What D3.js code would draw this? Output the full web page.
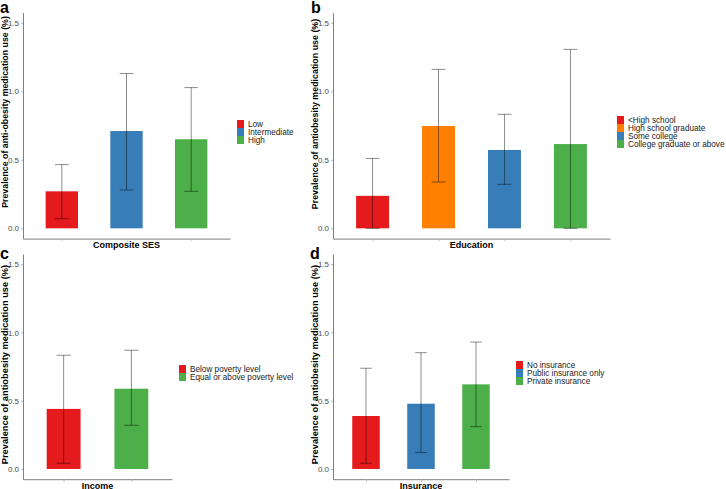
<!DOCTYPE html>
<html lang="en">
<head>
  <meta charset="UTF-8">
  <title>Antiobesity medication use by SES</title>
  <style>
    body {
      margin: 0;
      background: #fff;
    }
    svg text {
      font-family: "Liberation Sans", Arial, sans-serif;
    }
  </style>
</head>
<body>
  <svg></svg>
</body>
<script src="https://cdn.jsdelivr.net/npm/d3@7"></script>
<script>
  var width = 726
  var height = 489

  // data (percent)
  var sesCats = ['Low', 'Intermediate', 'High']
  var sesVals = [0.27, 0.71, 0.65]
  var sesLow = [0.07, 0.28, 0.27]
  var sesHigh = [0.465, 1.13, 1.027]

  var eduCats = ['<High school', 'High school graduate', 'Some college', 'College graduate or above']
  var eduVals = [0.237, 0.747, 0.572, 0.615]
  var eduLow = [0, 0.338, 0.321, 0]
  var eduHigh = [0.51, 1.16, 0.832, 1.306]

  var incCats = ['Below poverty level', 'Equal or above poverty level']
  var incVals = [0.44, 0.588]
  var incLow = [0.042, 0.32]
  var incHigh = [0.833, 0.87]

  var insCats = ['No insurance', 'Public insurance only', 'Private insurance']
  var insVals = [0.388, 0.478, 0.62]
  var insLow = [0.042, 0.12, 0.31]
  var insHigh = [0.738, 0.852, 0.93]

  var yTicks = [0, 0.5, 1.0, 1.5]

  var red = '#E41A1C', blue = '#377EB8', green = '#4DAF4A', orange = '#FF7F00'

  var panels = [
    {tag: 'a', cats: sesCats, vals: sesVals, lo: sesLow, hi: sesHigh, colors: [red, blue, green],
     xTitle: 'Composite SES', yTitle: 'Prevalence of anti-obesity medication use (%)',
     x0: 23, x1: 230, yTop: 12.5, yBot: 238.6, yTitleMid: 112, ySize: 8.8,
     legX: 237, legY: 120, tagX: 0, tagY: 13},
    {tag: 'b', cats: eduCats, vals: eduVals, lo: eduLow, hi: eduHigh, colors: [red, orange, blue, green],
     xTitle: 'Education', yTitle: 'Prevalence of antiobesity medication use (%)',
     x0: 333, x1: 610, yTop: 12.5, yBot: 238.6, yTitleMid: 114, ySize: 8.9,
     legX: 617, legY: 116, tagX: 311, tagY: 13},
    {tag: 'c', cats: incCats, vals: incVals, lo: incLow, hi: incHigh, colors: [red, green],
     xTitle: 'Income', yTitle: 'Prevalence of antiobesity medication use (%)',
     x0: 23, x1: 172, yTop: 254, yBot: 479.2, yTitleMid: 364.5, ySize: 9.3,
     legX: 179, legY: 365, tagX: 0, tagY: 258.5},
    {tag: 'd', cats: insCats, vals: insVals, lo: insLow, hi: insHigh, colors: [red, blue, green],
     xTitle: 'Insurance', yTitle: 'Prevalence of antiobesity medication use (%)',
     x0: 333, x1: 509, yTop: 254, yBot: 479.2, yTitleMid: 364.5, ySize: 9.3,
     legX: 516, legY: 361, tagX: 310, tagY: 258.5}
  ]

  var svg = d3.select('svg')
    .attr('width', width)
    .attr('height', height)

  panels.forEach(drawPanel)

  function drawPanel(p) {
    var g = svg.append('g')

    var y = d3.scaleLinear()
      .domain([-0.075, 1.575])
      .range([p.yBot, p.yTop])

    var x = d3.scalePoint()
      .domain(p.cats)
      .range([p.x0, p.x1])
      .padding(0.6)

    var step = x.step()
    var barW = step * 0.5
    var capW = step * 0.21

    var rows = p.cats.map((c, i) => ({cat: c, v: p.vals[i], lo: p.lo[i], hi: p.hi[i], col: p.colors[i]}))

    // bars
    g.selectAll('rect.bar')
      .data(rows)
      .enter()
      .append('rect')
      .attr('class', 'bar')
      .attr('x', d => x(d.cat) - barW / 2)
      .attr('width', barW)
      .attr('y', d => y(d.v))
      .attr('height', d => y(0) - y(d.v))
      .attr('fill', d => d.col)

    // error bars
    var eb = g.selectAll('g.err')
      .data(rows)
      .enter()
      .append('g')
      .attr('class', 'err')
      .attr('stroke', 'rgba(0,0,0,0.45)')
      .attr('stroke-width', 1)

    eb.append('line')
      .attr('x1', d => x(d.cat)).attr('x2', d => x(d.cat))
      .attr('y1', d => y(d.lo)).attr('y2', d => y(d.hi))
    eb.append('line')
      .attr('x1', d => x(d.cat) - capW / 2).attr('x2', d => x(d.cat) + capW / 2)
      .attr('y1', d => y(d.hi)).attr('y2', d => y(d.hi))
    eb.append('line')
      .attr('x1', d => x(d.cat) - capW / 2).attr('x2', d => x(d.cat) + capW / 2)
      .attr('y1', d => y(d.lo)).attr('y2', d => y(d.lo))

    // y axis
    var yAxis = g.append('g')
      .attr('transform', `translate(${p.x0},0)`)
      .call(d3.axisLeft(y).tickValues(yTicks).tickFormat(d3.format('.1f')).tickSize(2).tickPadding(2).tickSizeOuter(0))
    yAxis.select('.domain').attr('stroke', '#7f7f7f')
    yAxis.selectAll('.tick line').attr('stroke', '#bbb')
    yAxis.selectAll('.tick text')
      .attr('fill', '#4d4d4d')
      .style('font-size', '8px')

    // x axis
    var xAxis = g.append('g')
      .attr('transform', `translate(0,${p.yBot})`)
      .call(d3.axisBottom(x).tickSize(2.5).tickFormat('').tickSizeOuter(0))
    xAxis.select('.domain').attr('stroke', '#7f7f7f')
    xAxis.selectAll('.tick line').attr('stroke', '#bbb')

    // axis titles
    g.append('text')
      .attr('x', (p.x0 + p.x1) / 2)
      .attr('y', p.yBot + 9.3)
      .attr('text-anchor', 'middle')
      .style('font-size', '9px')
      .style('font-weight', 'bold')
      .text(p.xTitle)

    g.append('text')
      .attr('transform', `translate(${p.x0 - 15},${p.yTitleMid}) rotate(-90)`)
      .attr('text-anchor', 'middle')
      .style('font-size', p.ySize + 'px')
      .style('font-weight', 'bold')
      .text(p.yTitle)

    // panel tag
    g.append('text')
      .attr('x', p.tagX)
      .attr('y', p.tagY)
      .style('font-size', '16px')
      .style('font-weight', 'bold')
      .text(p.tag)

    // legend
    var leg = g.selectAll('g.leg')
      .data(rows)
      .enter()
      .append('g')
      .attr('class', 'leg')
      .attr('transform', (d, i) => `translate(${p.legX},${p.legY + i * 8})`)
    leg.append('rect')
      .attr('width', 7)
      .attr('height', 8)
      .attr('fill', d => d.col)
    leg.append('text')
      .attr('x', 11)
      .attr('y', 7)
      .style('font-size', '8.2px')
      .attr('fill', '#1a1a1a')
      .text(d => d.cat)
  }
</script>
</html>
